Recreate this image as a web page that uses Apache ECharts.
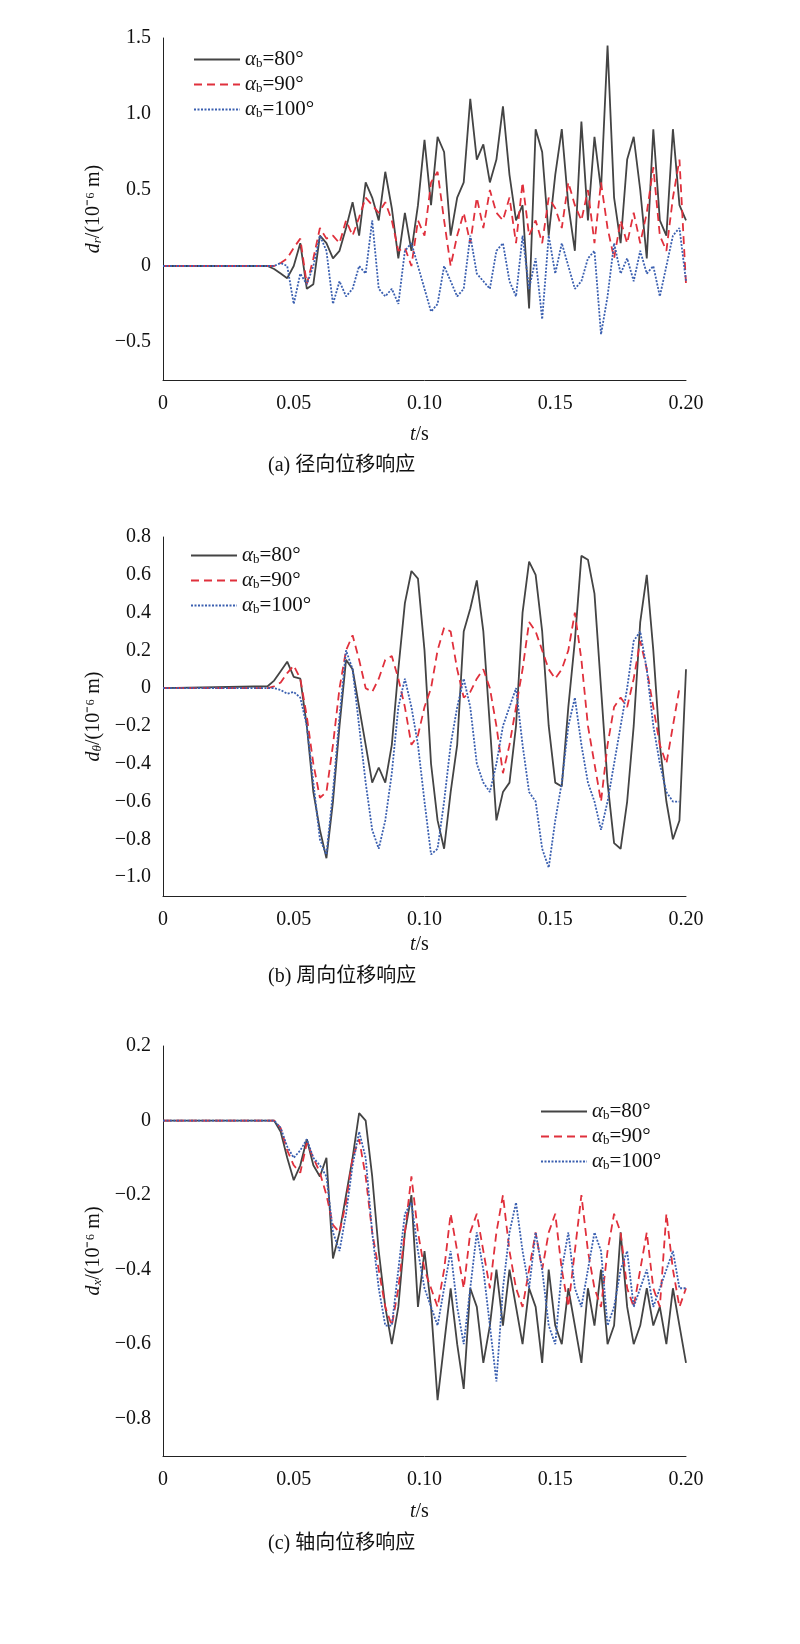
<!DOCTYPE html>
<html><head><meta charset="utf-8">
<script src="https://cdn.jsdelivr.net/npm/echarts@6/dist/echarts.min.js"></script>
<style>html,body{margin:0;padding:0;background:#fff}#c{width:800px;height:1644px}</style>
</head><body><div id="c"></div>
<script>
// values sampled every 0.0025 s starting at t = 0.04 s (before that all are 0)
const t0 = 0.04, dt = 0.0025;
const xTicks = ['0','0.05','0.10','0.15','0.20'];
const seriesNames = ['80°','90°','100°'];
const a80 = [0,-0.02,-0.05,-0.08,0.0,0.15,-0.15,-0.12,0.2,0.15,0.05,0.1,0.25,0.42,0.2,0.55,0.45,0.3,0.62,0.38,0.05,0.35,0.1,0.4,0.83,0.4,0.85,0.75,0.2,0.45,0.55,1.1,0.7,0.8,0.55,0.7,1.05,0.6,0.3,0.4,-0.28,0.9,0.75,0.2,0.6,0.9,0.4,0.1,0.95,0.3,0.85,0.5,1.45,0.45,0.15,0.7,0.85,0.5,0.05,0.9,0.3,0.2,0.9,0.4,0.3];
const a90 = [0,0,0.02,0.05,0.12,0.18,-0.12,0.05,0.25,0.18,0.2,0.15,0.3,0.2,0.32,0.45,0.4,0.35,0.42,0.3,0.1,0.12,0.0,0.3,0.2,0.55,0.62,0.3,0.0,0.2,0.35,0.15,0.45,0.25,0.5,0.35,0.3,0.45,0.15,0.55,0.2,0.3,0.15,0.45,0.38,0.25,0.55,0.4,0.3,0.5,0.15,0.55,0.25,0.05,0.3,0.15,0.35,0.15,0.35,0.65,0.2,0.1,0.45,0.7,-0.12];
const a100 = [0,0,0.02,0.0,-0.25,-0.05,-0.12,0.0,0.2,0.1,-0.25,-0.1,-0.2,-0.15,0.0,-0.05,0.3,-0.15,-0.2,-0.15,-0.25,0.1,0.15,0.0,-0.15,-0.3,-0.25,0.0,-0.1,-0.2,-0.15,0.2,-0.05,-0.1,-0.15,0.1,0.15,-0.1,-0.2,0.2,-0.15,0.05,-0.35,0.2,-0.05,0.15,0.0,-0.15,-0.1,0.05,0.1,-0.45,-0.2,0.15,-0.05,0.05,-0.1,0.1,-0.05,0.0,-0.2,0.0,0.2,0.25,-0.1];
const b80 = [0.01,0.04,0.09,0.14,0.06,0.05,-0.2,-0.55,-0.75,-0.9,-0.6,-0.2,0.15,0.1,-0.1,-0.3,-0.5,-0.42,-0.5,-0.3,0.1,0.45,0.62,0.58,0.2,-0.4,-0.7,-0.85,-0.55,-0.3,0.3,0.42,0.57,0.3,-0.2,-0.7,-0.55,-0.5,-0.2,0.4,0.67,0.6,0.3,-0.2,-0.5,-0.52,-0.1,0.25,0.7,0.68,0.5,0.0,-0.5,-0.82,-0.85,-0.6,-0.2,0.35,0.6,0.2,-0.3,-0.6,-0.8,-0.7,0.1];
const b90 = [0,0.01,0.03,0.08,0.12,0.05,-0.15,-0.4,-0.58,-0.55,-0.3,0.0,0.2,0.28,0.15,0.0,-0.02,0.05,0.15,0.17,0.05,-0.1,-0.3,-0.25,-0.1,0.0,0.2,0.32,0.3,0.1,-0.05,-0.02,0.05,0.1,0.0,-0.2,-0.45,-0.3,-0.1,0.1,0.35,0.3,0.2,0.1,0.05,0.1,0.2,0.4,0.15,-0.2,-0.4,-0.6,-0.3,-0.1,-0.05,-0.1,0.05,0.25,0.1,-0.1,-0.3,-0.4,-0.2,0.0];
const b100 = [0,0,-0.01,-0.03,-0.02,-0.05,-0.2,-0.5,-0.8,-0.88,-0.55,-0.15,0.2,0.1,-0.2,-0.5,-0.75,-0.85,-0.7,-0.45,-0.1,0.05,-0.1,-0.3,-0.6,-0.88,-0.85,-0.6,-0.3,-0.1,0.05,-0.1,-0.4,-0.5,-0.55,-0.4,-0.2,-0.1,0.0,-0.3,-0.55,-0.6,-0.85,-0.95,-0.7,-0.5,-0.2,-0.05,-0.3,-0.5,-0.6,-0.75,-0.6,-0.4,-0.2,0.0,0.25,0.3,0.1,-0.2,-0.4,-0.55,-0.6,-0.6];
const c80 = [0,0,-0.03,-0.1,-0.16,-0.12,-0.05,-0.12,-0.15,-0.1,-0.37,-0.3,-0.2,-0.1,0.02,0.0,-0.15,-0.35,-0.5,-0.6,-0.5,-0.3,-0.2,-0.5,-0.35,-0.5,-0.75,-0.6,-0.45,-0.6,-0.72,-0.45,-0.5,-0.65,-0.55,-0.4,-0.55,-0.4,-0.5,-0.6,-0.45,-0.5,-0.65,-0.4,-0.55,-0.6,-0.45,-0.55,-0.65,-0.45,-0.55,-0.4,-0.6,-0.55,-0.3,-0.5,-0.6,-0.55,-0.45,-0.55,-0.5,-0.6,-0.45,-0.55,-0.65];
const c90 = [0,0,-0.02,-0.08,-0.12,-0.14,-0.06,-0.1,-0.14,-0.2,-0.28,-0.3,-0.22,-0.1,-0.05,-0.15,-0.3,-0.4,-0.5,-0.55,-0.45,-0.3,-0.15,-0.3,-0.4,-0.45,-0.5,-0.4,-0.25,-0.35,-0.45,-0.3,-0.25,-0.35,-0.45,-0.3,-0.2,-0.35,-0.45,-0.5,-0.4,-0.3,-0.4,-0.3,-0.25,-0.4,-0.5,-0.35,-0.2,-0.35,-0.45,-0.5,-0.35,-0.25,-0.3,-0.45,-0.5,-0.4,-0.3,-0.45,-0.5,-0.25,-0.4,-0.5,-0.45];
const c100 = [0,0,-0.02,-0.07,-0.1,-0.08,-0.05,-0.1,-0.12,-0.15,-0.3,-0.35,-0.25,-0.12,-0.03,-0.1,-0.3,-0.45,-0.55,-0.55,-0.4,-0.25,-0.22,-0.35,-0.45,-0.5,-0.55,-0.45,-0.35,-0.5,-0.6,-0.45,-0.3,-0.4,-0.55,-0.7,-0.45,-0.3,-0.22,-0.35,-0.45,-0.3,-0.4,-0.55,-0.6,-0.4,-0.3,-0.45,-0.5,-0.4,-0.3,-0.35,-0.55,-0.5,-0.4,-0.35,-0.5,-0.45,-0.4,-0.5,-0.45,-0.4,-0.35,-0.45,-0.45];

const F = 'Liberation Serif';
const colors = ['#444444','#e0303c','#3a5fb0'];
const types = ['solid',[8,5],[2,1.5]];
function pts(arr){ const p=[[0,0]]; arr.forEach((v,i)=>p.push([+(t0+i*dt).toFixed(4),v])); return p; }
function yFmt(v){ const k=Math.round(v*100); if(k===0) return '0'; const s=(Math.abs(v)).toFixed(1); return (v<0?'−':'')+s; }
const grids=[{top:38,height:342},{top:537,height:359},{top:1046,height:410}];
const yCfg=[{min:-0.75,max:1.5,interval:0.25,step:2,name:'{i|d}{s|r}/(10⁻⁶ m)'},
            {min:-1.1,max:0.8,interval:0.1,step:2,name:'{i|d}{s|θ}/(10⁻⁶ m)'},
            {min:-0.9,max:0.2,interval:0.1,step:2,name:'{i|d}{s|x}/(10⁻⁶ m)'}];
const data=[[a80,a90,a100],[b80,b90,b100],[c80,c90,c100]];
const rich={i:{fontFamily:F,fontStyle:'italic',fontSize:20,color:'#111'},s:{fontFamily:F,fontStyle:'italic',fontSize:13,color:'#111',padding:[8,0,0,0]},n:{fontFamily:F,fontSize:20,color:'#111'}};
const option={animation:false,
 grid:grids.map(g=>({left:163,width:523,top:g.top,height:g.height})),
 xAxis:grids.map((g,i)=>({type:'value',gridIndex:i,min:0,max:0.2,interval:0.05,
   axisLine:{onZero:false,lineStyle:{color:'#222',width:1}},axisTick:{show:false},splitLine:{show:false},
   axisLabel:{fontFamily:F,fontSize:20,color:'#111',margin:14,formatter:v=>xTicks[Math.round(v/0.05)]}})),
 yAxis:yCfg.map((c,i)=>({type:'value',gridIndex:i,min:c.min,max:c.max,interval:c.interval,
   axisLine:{show:true,onZero:false,lineStyle:{color:'#222',width:1}},axisTick:{show:false},splitLine:{show:false},
   axisLabel:{fontFamily:F,fontSize:20,color:'#111',margin:12,formatter:v=>{const k=Math.round(v/c.interval);return (k%c.step===0)?yFmt(v):'';}},
   name:c.name,nameLocation:'middle',nameRotate:90,nameGap:58,nameTextStyle:{fontFamily:F,fontSize:20,color:'#111',rich:rich}})),
 legend:[{left:188,top:44},{left:185,top:540},{left:535,top:1096}].map((p,gi)=>({left:p.left,top:p.top,orient:'vertical',itemGap:4,itemWidth:46,itemHeight:14,
   itemStyle:{opacity:0},
   data:[0,1,2].map(k=>'g'+gi+'_'+k),
   formatter:n=>'{a|α}{b|b}{c|='+seriesNames[+n.split('_')[1]]+'}',
   textStyle:{rich:{a:{fontFamily:F,fontStyle:'italic',fontSize:21,color:'#111'},b:{fontFamily:F,fontSize:13,color:'#111',padding:[8,0,0,0]},c:{fontFamily:F,fontSize:21,color:'#111'}}}})),
 series:[],
 graphic:[]};
data.forEach((set,gi)=>set.forEach((arr,k)=>option.series.push({name:'g'+gi+'_'+k,type:'line',xAxisIndex:gi,yAxisIndex:gi,
  data:pts(arr),showSymbol:false,symbol:'none',smooth:false,
  lineStyle:{color:colors[k],width:1.8,type:types[k]},itemStyle:{color:colors[k]}})));
const tsY=[425,935,1502], capY=[456,967,1534], caps=['(a) 径向位移响应','(b) 周向位移响应','(c) 轴向位移响应'];
tsY.forEach((y,i)=>{
 option.graphic.push({type:'text',left:410,top:y,style:{rich:{i:{fontFamily:F,fontStyle:'italic',fontSize:20,fill:'#111'},n:{fontFamily:F,fontSize:20,fill:'#111'}},text:'{i|t}{n|/s}'}});
 option.graphic.push({type:'text',left:268,top:capY[i],style:{text:caps[i],font:'20px "Liberation Serif","Noto Sans CJK SC"',fill:'#111'}});
});
const ch=echarts.init(document.getElementById('c'));
ch.setOption(option);
</script></body></html>
